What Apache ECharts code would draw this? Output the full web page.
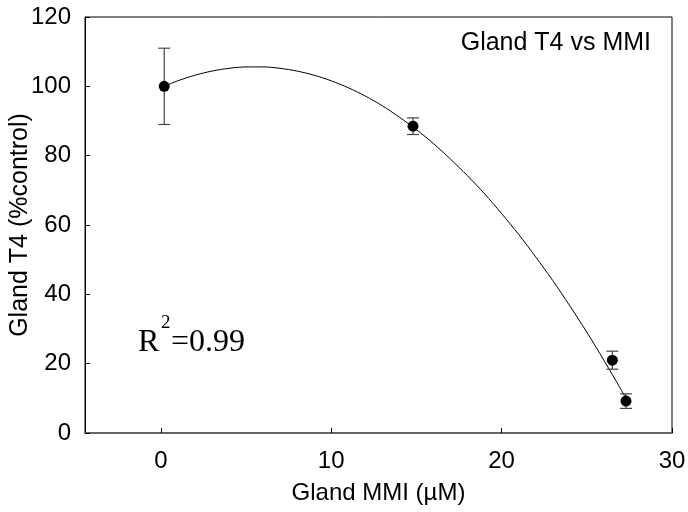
<!DOCTYPE html>
<html>
<head>
<meta charset="utf-8">
<script src="https://cdn.jsdelivr.net/npm/echarts@6/dist/echarts.min.js"></script>
<style>html,body{margin:0;padding:0;background:#fff}#c{width:688px;height:512px}</style>
</head>
<body>
<div id="c"></div>
<script>
// Measured points: x (µM), y (% control), error (±)
var pointX = [0.2, 14.8, 26.5, 27.3];
var pointY = [100, 88.5, 21, 9.2];
var pointErr = [11, 2.4, 2.6, 2.1];
// Fitted curve
var curveX = [0.2, 1, 2, 3, 4, 5, 6, 7, 8, 9, 10, 11, 12, 13, 14, 15, 16, 17, 18, 19, 20, 21, 22, 23, 24, 25, 26, 27, 27.3];
var curveY = [100.0, 101.6, 103.2, 104.4, 105.2, 105.6, 105.6, 105.2, 104.4, 103.2, 101.6, 99.6, 97.2, 94.4, 91.1, 87.5, 83.5, 79.0, 74.2, 69.0, 63.3, 57.3, 50.8, 44.0, 36.7, 29.1, 21.0, 12.6, 9.9];
var xTicks = [0, 10, 20, 30];
var yTicks = [0, 20, 40, 60, 80, 100, 120];

var chart = echarts.init(document.getElementById('c'));
var pts = pointX.map(function (x, i) { return [x, pointY[i]]; });
var errs = pointX.map(function (x, i) { return [x, pointY[i] - pointErr[i], pointY[i] + pointErr[i]]; });
var curve = curveX.map(function (x, i) { return [x, curveY[i]]; });
var font = 'Liberation Sans, Arial, sans-serif';
var serif = 'Liberation Serif, Times New Roman, serif';

chart.setOption({
  animation: false,
  backgroundColor: '#fff',
  grid: { left: 85, right: 16, top: 17, bottom: 79, containLabel: false, outerBoundsMode: 'none', show: true, borderColor: '#000', borderWidth: 1, backgroundColor: 'transparent' },
  title: {
    text: 'Gland T4 vs MMI', right: 32, top: 26,
    textStyle: { fontFamily: font, fontSize: 25, fontWeight: 'normal', color: '#000' }
  },
  graphic: [
    { type: 'text', left: 138, top: 327, style: { text: 'R', font: '32px ' + serif, fill: '#000' } },
    { type: 'text', left: 161, top: 314, style: { text: '2', font: '19px ' + serif, fill: '#000' } },
    { type: 'text', left: 171, top: 327, style: { text: '=0.99', font: '32px ' + serif, fill: '#000' } }
  ],
  xAxis: {
    type: 'value', min: -4.45, max: 30,
    name: 'Gland MMI (µM)', nameLocation: 'middle', nameGap: 48,
    nameTextStyle: { fontFamily: font, fontSize: 24, color: '#000' },
    axisLine: { show: true, onZero: false, lineStyle: { color: '#666', width: 2 } },
    axisTick: { show: true, inside: true, length: 5, lineStyle: { color: '#000' }, customValues: xTicks },
    axisLabel: { fontFamily: font, fontSize: 24, color: '#000', margin: 16, customValues: xTicks },
    splitLine: { show: false }
  },
  yAxis: {
    type: 'value', min: 0, max: 120, interval: 20,
    name: 'Gland T4 (%control)', nameLocation: 'middle', nameGap: 52, nameMoveOverlap: false,
    nameTextStyle: { fontFamily: font, fontSize: 25, color: '#000' },
    axisLine: { show: true, onZero: false, lineStyle: { color: '#000', width: 1 } },
    axisTick: { show: true, inside: true, length: 5, lineStyle: { color: '#000' } },
    axisLabel: { fontFamily: font, fontSize: 24, color: '#000', margin: 14 },
    splitLine: { show: false }
  },
  series: [
    {
      type: 'line', data: curve, smooth: 0.3, symbol: 'none',
      lineStyle: { color: '#000', width: 1 }, z: 2
    },
    {
      type: 'custom', data: errs, z: 3,
      renderItem: function (params, api) {
        var x = api.value(0);
        var lo = api.coord([x, api.value(1)]);
        var hi = api.coord([x, api.value(2)]);
        var w = 6;
        var st = { stroke: '#444', lineWidth: 1.2 };
        return {
          type: 'group', children: [
            { type: 'line', shape: { x1: lo[0], y1: lo[1], x2: hi[0], y2: hi[1] }, style: st },
            { type: 'line', shape: { x1: lo[0] - w, y1: lo[1], x2: lo[0] + w, y2: lo[1] }, style: st },
            { type: 'line', shape: { x1: hi[0] - w, y1: hi[1], x2: hi[0] + w, y2: hi[1] }, style: st }
          ]
        };
      }
    },
    {
      type: 'scatter', data: pts, symbol: 'circle', symbolSize: 11,
      itemStyle: { color: '#000', opacity: 1 }, z: 4
    }
  ]
});
</script>
</body>
</html>
